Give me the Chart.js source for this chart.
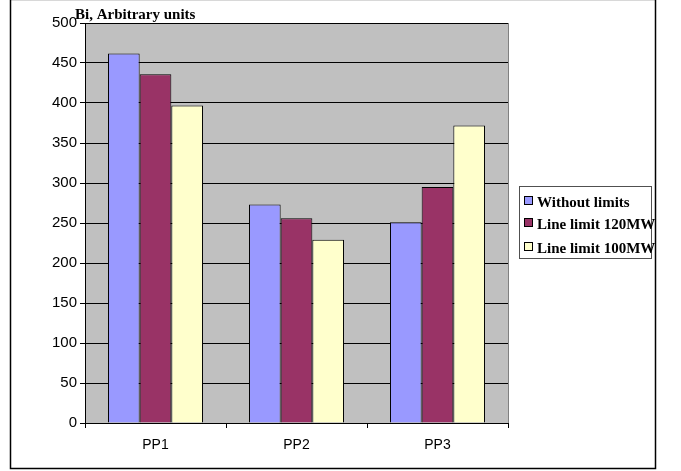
<!DOCTYPE html>
<html>
<head>
<meta charset="utf-8">
<script src="https://cdn.jsdelivr.net/npm/chart.js@4/dist/chart.umd.min.js"></script>
<style>
  html, body { margin: 0; padding: 0; background: #ffffff; }
  #wrap { width: 681px; height: 471px; position: relative; }
</style>
</head>
<body>
<div id="wrap"><canvas id="chart" width="681" height="471"></canvas></div>
<script>
// Plant categories and the three series of Bi values
const categories = ['PP1', 'PP2', 'PP3'];
const withoutLimits = [462, 273, 251];
const lineLimit120 = [436, 256, 295];
const lineLimit100 = [397, 229, 372];
const yTicks = [0, 50, 100, 150, 200, 250, 300, 350, 400, 450, 500];

const seriesNames = ['Without limits', 'Line limit 120MW', 'Line limit 100MW'];
const seriesColors = ['#9999FF', '#993366', '#FFFFCC'];

const serifBold = 'bold 15px "Liberation Serif", "Times New Roman", serif';

// Grey plot area, outer frame, axis title and boxed legend
const decorations = {
  id: 'decorations',
  beforeDraw(chart) {
    const { ctx, chartArea: a } = chart;
    ctx.save();
    ctx.fillStyle = '#FFFFFF';
    ctx.fillRect(0, 0, chart.width, chart.height);
    ctx.fillStyle = '#C0C0C0';
    ctx.fillRect(a.left, a.top, a.right - a.left, a.bottom - a.top);
    ctx.restore();
  },
  afterDraw(chart) {
    const { ctx, chartArea: a } = chart;
    ctx.save();
    // plot area right edge
    ctx.strokeStyle = '#808080';
    ctx.lineWidth = 1;
    ctx.beginPath();
    ctx.moveTo(Math.round(a.right) + 0.5, a.top);
    ctx.lineTo(Math.round(a.right) + 0.5, a.bottom);
    ctx.stroke();

    // outer chart frame
    ctx.strokeStyle = '#D8D8D8';
    ctx.beginPath();
    ctx.moveTo(10.5, 0.5); ctx.lineTo(655.5, 0.5);
    ctx.stroke();
    ctx.strokeStyle = '#000000';
    ctx.lineWidth = 1.5;
    ctx.beginPath();
    ctx.moveTo(10.5, 0); ctx.lineTo(10.5, 468.5);
    ctx.lineTo(655.5, 468.5); ctx.lineTo(655.5, 0);
    ctx.stroke();

    // axis title
    ctx.fillStyle = '#000000';
    ctx.font = serifBold;
    ctx.textAlign = 'left';
    ctx.textBaseline = 'alphabetic';
    ctx.fillText('Bi, Arbitrary units', 75, 19);

    // legend
    ctx.strokeStyle = '#505050';
    ctx.lineWidth = 1;
    ctx.strokeRect(519.5, 186.5, 132, 72);
    const rows = [202, 224, 248];
    chart.data.datasets.forEach((ds, i) => {
      const y = rows[i];
      ctx.fillStyle = ds.backgroundColor;
      ctx.fillRect(524.5, y - 5.5, 8, 8);
      ctx.strokeStyle = '#000000';
      ctx.strokeRect(524.5, y - 5.5, 8, 8);
      ctx.fillStyle = '#000000';
      ctx.font = serifBold;
      ctx.textBaseline = 'alphabetic';
      ctx.fillText(ds.label, 537, y + 5);
    });
    ctx.restore();
  }
};

const datasets = [withoutLimits, lineLimit120, lineLimit100].map((vals, i) => ({
  label: seriesNames[i],
  data: vals,
  backgroundColor: seriesColors[i],
  borderColor: '#000000',
  borderWidth: 1,
  categoryPercentage: 0.674,
  barPercentage: 1.0
}));

new Chart(document.getElementById('chart'), {
  type: 'bar',
  data: { labels: categories, datasets },
  options: {
    responsive: false,
    animation: false,
    devicePixelRatio: 1,
    layout: { padding: { top: 23, right: 173, bottom: 0, left: 0 } },
    plugins: {
      legend: { display: false },
      tooltip: { enabled: false },
      title: { display: false }
    },
    scales: {
      x: {
        offset: true,
        grid: {
          offset: true,
          drawOnChartArea: false,
          drawTicks: true,
          tickLength: 5,
          color: '#000000',
          lineWidth: 1
        },
        border: { display: true, color: '#000000', width: 1 },
        ticks: {
          color: '#000000',
          font: { family: '"Liberation Sans", Arial, sans-serif', size: 14 },
          padding: 9
        },
        afterFit(scale) { scale.height = 48; }
      },
      y: {
        min: 0,
        max: 500,
        afterBuildTicks(scale) { scale.ticks = yTicks.map(v => ({ value: v })); },
        grid: {
          color: '#000000',
          lineWidth: 1,
          drawTicks: true,
          tickLength: 5
        },
        border: { display: true, color: '#000000', width: 1 },
        ticks: {
          color: '#000000',
          font: { family: '"Liberation Sans", Arial, sans-serif', size: 15 },
          padding: 3
        },
        afterFit(scale) { scale.width = 85; }
      }
    }
  },
  plugins: [decorations]
});
</script>
</body>
</html>
